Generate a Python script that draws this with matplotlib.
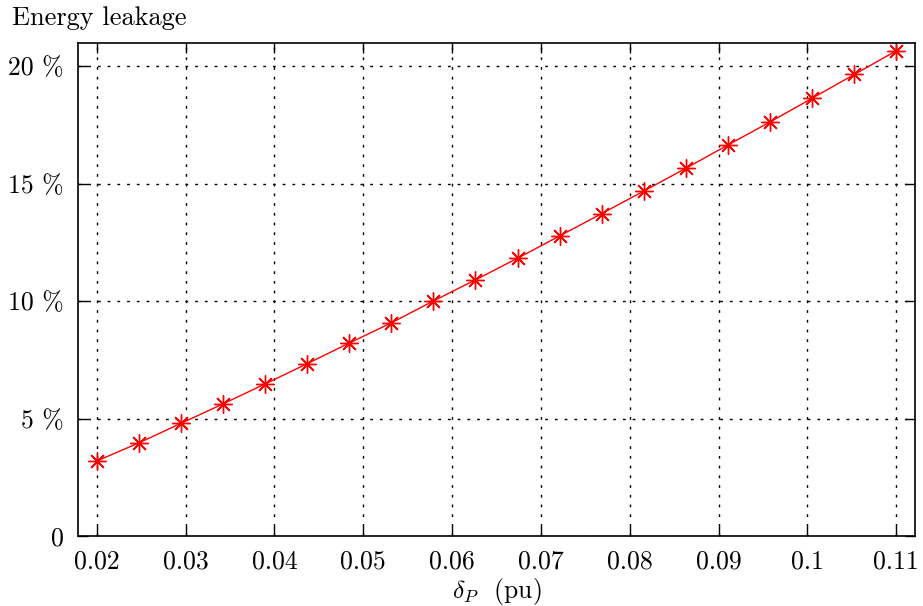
import numpy as np
import matplotlib
matplotlib.use("Agg")
import matplotlib.pyplot as plt

plt.rcParams['font.family'] = ['cmr10', 'DejaVu Serif']
plt.rcParams['mathtext.fontset'] = 'cm'
plt.rcParams['axes.formatter.use_mathtext'] = True

delta_p = [0.02, 0.02474, 0.02947, 0.03421, 0.03895, 0.04368, 0.04842, 0.05316,
           0.05789, 0.06263, 0.06737, 0.07211, 0.07684, 0.08158, 0.08632, 0.09105,
           0.09579, 0.10053, 0.10526, 0.11]
leakage = [3.19, 3.96, 4.79, 5.62, 6.47, 7.33, 8.21, 9.07, 10.0, 10.9,
           11.82, 12.77, 13.72, 14.68, 15.65, 16.64, 17.62, 18.63, 19.64, 20.65]

x_ticks = [0.02, 0.03, 0.04, 0.05, 0.06, 0.07, 0.08, 0.09, 0.1, 0.11]
x_tick_labels = ['0.02', '0.03', '0.04', '0.05', '0.06', '0.07', '0.08', '0.09', '0.1', '0.11']
y_ticks = [0, 5, 10, 15, 20]
y_tick_labels = ['0', '5 %', '10 %', '15 %', '20 %']

fig = plt.figure(figsize=(9.23, 6.06), dpi=100)
ax = fig.add_axes([78/923, 70/606, (915-78)/923, (536-43)/606])

ax.plot(delta_p, leakage, color='red', linewidth=1.0, marker=(8, 2, 0),
        markersize=13, markeredgewidth=1.0, markeredgecolor='red')

ax.set_xlim(0.0179, 0.1121)
ax.set_ylim(0, 20.98)
ax.set_xticks(x_ticks)
ax.set_xticklabels(x_tick_labels)
ax.set_yticks(y_ticks)
ax.set_yticklabels(y_tick_labels)

ax.grid(True, color='black', linestyle=(0, (2, 5)), linewidth=1.0)
ax.tick_params(direction='in', top=True, right=True, length=7, width=1.0,
               labelsize=18.5, pad=10)
for s in ax.spines.values():
    s.set_linewidth(1.2)

ax.set_xlabel(r'$\delta_P$  (pu)', fontsize=18.5, labelpad=2)
fig.text(12/923, 1 - 18/606, 'Energy leakage', fontsize=19, va='center', ha='left')

fig.savefig('out.png', dpi=100)
